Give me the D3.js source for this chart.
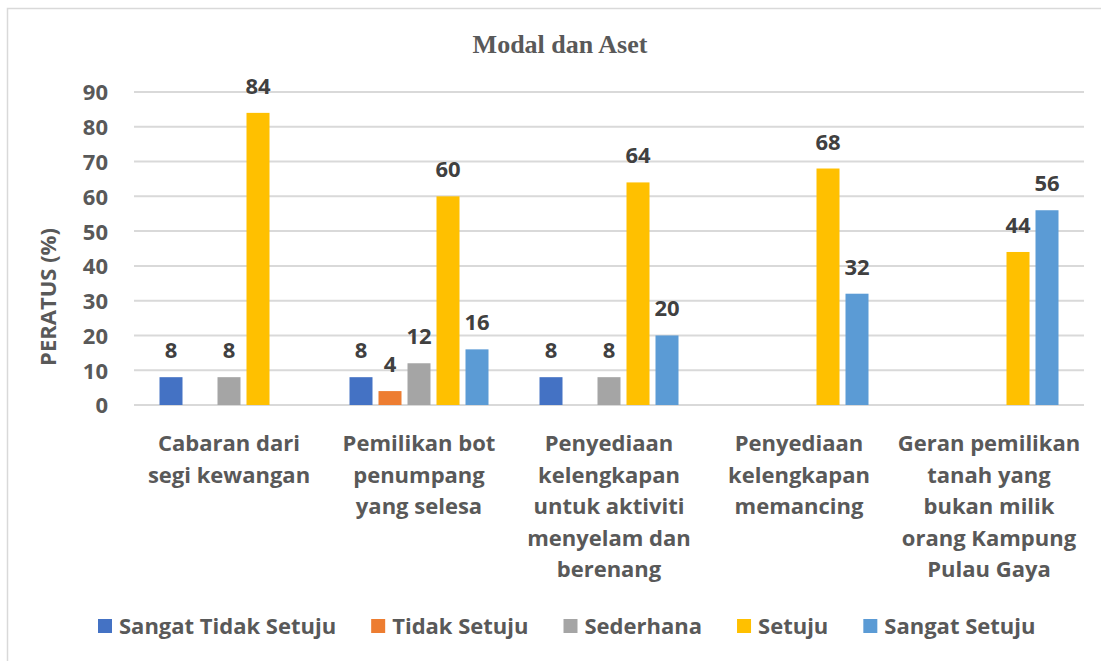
<!DOCTYPE html>
<html>
<head>
<meta charset="utf-8">
<script src="https://cdn.jsdelivr.net/npm/d3@7"></script>
<style>
    body { margin: 0; background: #fff; }
    svg { display: block; }
</style>
</head>
<body>
<script>
//Modal dan Aset - grouped bar chart with D3

//chart data
var categories = [
    ["Cabaran dari", "segi kewangan"],
    ["Pemilikan bot", "penumpang", "yang selesa"],
    ["Penyediaan", "kelengkapan", "untuk aktiviti", "menyelam dan", "berenang"],
    ["Penyediaan", "kelengkapan", "memancing"],
    ["Geran pemilikan", "tanah yang", "bukan milik", "orang Kampung", "Pulau Gaya"]
];
var seriesNames = ["Sangat Tidak Setuju", "Tidak Setuju", "Sederhana", "Setuju", "Sangat Setuju"];
var sangatTidakSetuju = [8, 8, 8, null, null];
var tidakSetuju = [null, 4, null, null, null];
var sederhana = [8, 12, 8, null, null];
var setuju = [84, 60, 64, 68, 44];
var sangatSetuju = [null, 16, 20, 32, 56];
var yTicks = [0, 10, 20, 30, 40, 50, 60, 70, 80, 90];

var seriesValues = [sangatTidakSetuju, tidakSetuju, sederhana, setuju, sangatSetuju];
var colors = ["#4472C4", "#ED7D31", "#A5A5A5", "#FFC000", "#5B9BD5"];

//frame dimensions
var width = 1101,
    height = 661,
    plotLeft = 134,
    plotRight = 1084,
    plotTop = 92,
    plotBottom = 405,
    fontFam = "'Open Sans', 'DejaVu Sans', sans-serif",
    textGrey = "#595959";

var svg = d3.select("body")
    .append("svg")
    .attr("width", width)
    .attr("height", height);

//chart border (only top and left visible in the crop)
svg.append("path")
    .attr("d", "M7.5," + height + "V8.5H" + width)
    .attr("fill", "none")
    .attr("stroke", "#d9d9d9")
    .attr("stroke-width", 1.5);

//scales
var x0 = d3.scaleBand()
    .domain(d3.range(categories.length))
    .range([plotLeft, plotRight]);

var x1 = d3.scaleBand()
    .domain(d3.range(seriesNames.length))
    .range([-69.5, 69.5])
    .paddingInner(6 / 29)
    .paddingOuter(0);

var yScale = d3.scaleLinear()
    .domain([0, 90])
    .range([plotBottom, plotTop]);

//gridlines
svg.selectAll(".grid")
    .data(yTicks)
    .enter()
    .append("line")
    .attr("class", "grid")
    .attr("x1", plotLeft)
    .attr("x2", plotRight)
    .attr("y1", function(d){ return yScale(d); })
    .attr("y2", function(d){ return yScale(d); })
    .attr("stroke", "#d9d9d9")
    .attr("stroke-width", 2);

//y axis labels via axis generator
var yAxis = d3.axisLeft(yScale)
    .tickValues(yTicks)
    .tickSize(0)
    .tickPadding(0);

var axis = svg.append("g")
    .attr("transform", "translate(108,0)")
    .call(yAxis);
axis.select(".domain").remove();
axis.selectAll("text")
    .attr("fill", textGrey)
    .attr("font-family", fontFam)
    .attr("font-weight", "bold")
    .attr("font-size", "22px")
    .attr("dy", "0.36em");

//y axis title
svg.append("text")
    .attr("transform", "translate(56,297) rotate(-90)")
    .attr("text-anchor", "middle")
    .attr("fill", textGrey)
    .attr("font-family", fontFam)
    .attr("font-weight", "bold")
    .attr("font-size", "22px")
    .text("PERATUS (%)");

//chart title
svg.append("text")
    .attr("x", 560)
    .attr("y", 53)
    .attr("text-anchor", "middle")
    .attr("fill", textGrey)
    .attr("font-family", "'Liberation Serif', 'Times New Roman', serif")
    .attr("font-weight", "bold")
    .attr("font-size", "26px")
    .text("Modal dan Aset");

//bars and labels
var points = [];
seriesValues.forEach(function(vals, s){
    vals.forEach(function(v, c){
        if (v !== null) points.push({s: s, c: c, v: v});
    });
});

svg.selectAll(".bar")
    .data(points)
    .enter()
    .append("rect")
    .attr("class", "bar")
    .attr("x", function(d){ return x0(d.c) + x0.bandwidth() / 2 + x1(d.s); })
    .attr("width", x1.bandwidth())
    .attr("y", function(d){ return yScale(d.v); })
    .attr("height", function(d){ return yScale(0) - yScale(d.v); })
    .attr("fill", function(d){ return colors[d.s]; });

svg.selectAll(".numbers")
    .data(points)
    .enter()
    .append("text")
    .attr("class", "numbers")
    .attr("text-anchor", "middle")
    .attr("x", function(d){ return x0(d.c) + x0.bandwidth() / 2 + x1(d.s) + x1.bandwidth() / 2; })
    .attr("y", function(d){ return yScale(d.v) - 19; })
    .attr("fill", "#404040")
    .attr("font-family", fontFam)
    .attr("font-weight", "bold")
    .attr("font-size", "22px")
    .text(function(d){ return d.v; });

//category labels
var catLabels = svg.selectAll(".catLabel")
    .data(categories)
    .enter()
    .append("text")
    .attr("class", "catLabel")
    .attr("text-anchor", "middle")
    .attr("fill", textGrey)
    .attr("font-family", fontFam)
    .attr("font-weight", "bold")
    .attr("font-size", "22px");

catLabels.selectAll("tspan")
    .data(function(d, i){ return d.map(function(line){ return {line: line, c: i}; }); })
    .enter()
    .append("tspan")
    .attr("x", function(d){ return x0(d.c) + x0.bandwidth() / 2; })
    .attr("y", function(d, j){ return 451 + j * 31.5; })
    .text(function(d){ return d.line; });

//legend
var legend = svg.append("g");
var lx = 98;
seriesNames.forEach(function(name, i){
    legend.append("rect")
        .attr("x", lx)
        .attr("y", 619)
        .attr("width", 14)
        .attr("height", 14)
        .attr("fill", colors[i]);
    var t = legend.append("text")
        .attr("x", lx + 21)
        .attr("y", 634)
        .attr("fill", textGrey)
        .attr("font-family", fontFam)
        .attr("font-weight", "bold")
        .attr("font-size", "22px")
        .text(name);
    lx += 21 + t.node().getComputedTextLength() + 35;
});
</script>
</body>
</html>
